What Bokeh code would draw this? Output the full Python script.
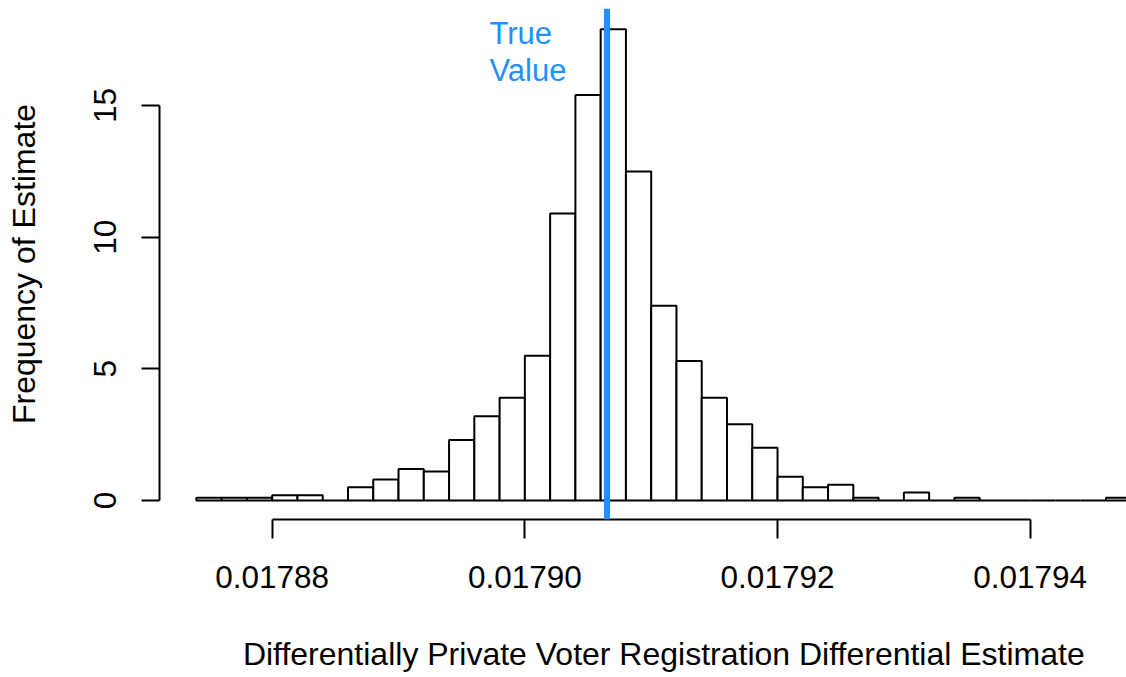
from bokeh.plotting import figure
from bokeh.models import Range1d, FixedTicker, Span, Label, LinearAxis
from bokeh.embed import file_html
from bokeh.resources import INLINE

# ---- data ----
bin_start = 0.017874
bin_width = 0.000002
heights = [0.1, 0.1, 0.1, 0.2, 0.2, 0.0, 0.5, 0.8, 1.2, 1.1,
           2.3, 3.2, 3.9, 5.5, 10.9, 15.4, 17.9, 12.5, 7.4, 5.3,
           3.9, 2.9, 2.0, 0.9, 0.5, 0.6, 0.1, 0.0, 0.3, 0.0,
           0.1, 0.0, 0.0, 0.0, 0.0, 0.0, 0.1]
true_value = 0.0179065
x_ticks = [0.01788, 0.01790, 0.01792, 0.01794]
x_tick_labels = ["0.01788", "0.01790", "0.01792", "0.01794"]
y_ticks = [0, 5, 10, 15]
y_tick_labels = ["0", "5", "10", "15"]
x_title = "Differentially Private Voter Registration Differential Estimate"
y_title = "Frequency of Estimate"
label_lines = ["True", "Value"]

lefts = [bin_start + i * bin_width for i in range(len(heights))]
rights = [l + bin_width for l in lefts]
# R centres the x title on its plot region = range of breaks
x_title_pos = (lefts[0] + rights[-1]) / 2

FONT = "Liberation Sans"
FS = "31.5px"
FS_T = "32px"

p = figure(width=1126, height=677, output_backend="svg", toolbar_location=None,
           title=None,
           x_range=Range1d(0.017871079, 0.017947623),
           y_range=Range1d(-0.7216, 18.686),
           min_border_left=159, min_border_right=0, min_border_top=8,
           min_border_bottom=158)
p.outline_line_color = None
p.xgrid.visible = False
p.ygrid.visible = False
p.background_fill_color = "white"
p.border_fill_color = "white"

p.quad(left=lefts, right=rights, bottom=0, top=heights,
       fill_color="white", line_color="black", line_width=2)

p.add_layout(Span(location=true_value, dimension="height",
                  line_color="#1E90FF", line_width=6))

# x axis
xa = p.xaxis[0]
xa.bounds = (x_ticks[0], x_ticks[-1])
xa.ticker = FixedTicker(ticks=x_ticks, minor_ticks=[])
xa.major_label_overrides = {t: s for t, s in zip(x_ticks, x_tick_labels)}
xa.axis_line_width = 2
xa.major_tick_line_width = 2
xa.major_tick_out = 19
xa.major_tick_in = 0
xa.minor_tick_out = 0
xa.minor_tick_in = 0
xa.major_label_standoff = 27
xa.major_label_text_font = FONT
xa.major_label_text_font_size = FS
xa.major_label_text_color = "black"

# x title: a bare axis whose single label sits at the centre of R's plot region
xt = LinearAxis(ticker=FixedTicker(ticks=[x_title_pos], minor_ticks=[]),
                major_label_overrides={x_title_pos: x_title})
xt.axis_line_color = None
xt.major_tick_line_color = None
xt.minor_tick_line_color = None
xt.major_tick_out = 0
xt.major_tick_in = 0
xt.minor_tick_out = 0
xt.minor_tick_in = 0
xt.major_label_standoff = 45
xt.major_label_text_font = FONT
xt.major_label_text_font_size = FS_T
xt.major_label_text_color = "black"
p.add_layout(xt, "below")

# y axis
ya = p.yaxis[0]
ya.bounds = (y_ticks[0], y_ticks[-1])
ya.ticker = FixedTicker(ticks=y_ticks, minor_ticks=[])
ya.major_label_overrides = {t: s for t, s in zip(y_ticks, y_tick_labels)}
ya.axis_line_width = 2
ya.major_tick_line_width = 2
ya.major_tick_out = 18
ya.major_tick_in = 0
ya.minor_tick_out = 0
ya.minor_tick_in = 0
ya.major_label_orientation = "parallel"
ya.major_label_standoff = 25
ya.major_label_text_font = FONT
ya.major_label_text_font_size = FS
ya.major_label_text_color = "black"
ya.axis_label = y_title
ya.axis_label_standoff = 50
ya.axis_label_text_font = FONT
ya.axis_label_text_font_size = FS_T
ya.axis_label_text_font_style = "normal"
ya.axis_label_text_color = "black"

# True value label
for txt, yy in zip(label_lines, [17.737, 16.343]):
    p.add_layout(Label(x=0.0178972, y=yy, text=txt, text_align="left",
                       text_baseline="alphabetic", text_font=FONT,
                       text_font_size="31px", text_color="#1E90FF"))

open("out.html", "w").write(file_html(p, INLINE))
